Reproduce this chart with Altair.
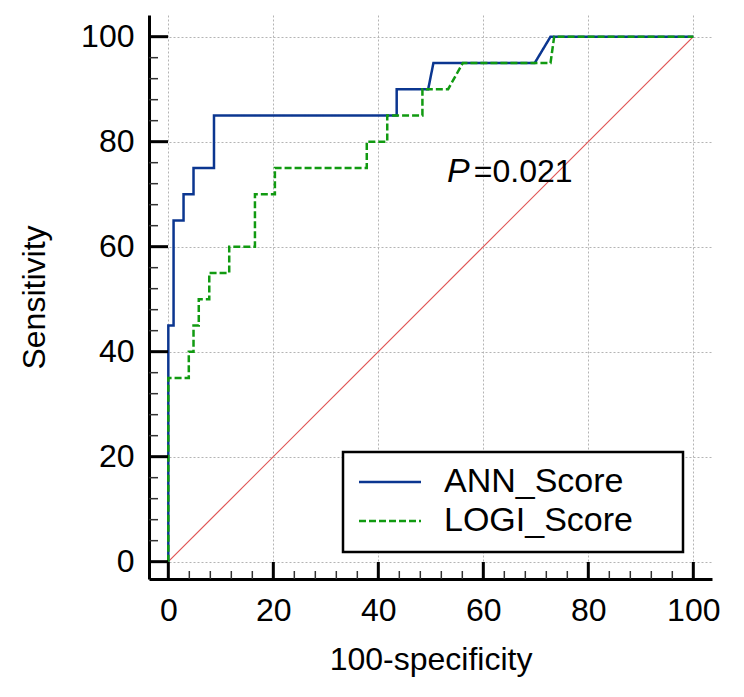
import altair as alt
import pandas as pd

# ---- data ----
series_names = ["ANN_Score", "LOGI_Score"]

ann_x = [0, 0, 1, 1, 2.9, 2.9, 4.8, 4.8, 8.7, 8.7, 43.5, 43.5, 49.5, 50.5, 69.8, 72.8, 100]
ann_y = [0, 45, 45, 65, 65, 70, 70, 75, 75, 85, 85, 90, 90, 95, 95, 100, 100]

logi_x = [0, 0, 3.9, 3.9, 4.8, 4.8, 5.8, 5.8, 7.8, 7.8, 11.6, 11.6, 16.5, 16.5, 20.3, 20.3,
          37.8, 37.8, 41.7, 41.7, 48.4, 48.4, 53.3, 56.1, 72.8, 73.5, 100]
logi_y = [0, 35, 35, 40, 40, 45, 45, 50, 50, 55, 55, 60, 60, 70, 70, 75,
          75, 80, 80, 85, 85, 90, 90, 95, 95, 100, 100]

diag_x = [0, 100]
diag_y = [0, 100]

major_ticks = [0, 20, 40, 60, 80, 100]
minor_ticks = [4, 8, 12, 16, 24, 28, 32, 36, 44, 48, 52, 56, 64, 68, 72, 76, 84, 88, 92, 96]

p_label = "P"
p_value = "=0.021"

# ---- tables ----
rows = []
for name, xs, ys in [("ANN_Score", ann_x, ann_y), ("LOGI_Score", logi_x, logi_y)]:
    for i, (x, y) in enumerate(zip(xs, ys)):
        rows.append({"series": name, "fpr": x, "sens": y, "order": i})
df = pd.DataFrame(rows)
diag_df = pd.DataFrame({"fpr": diag_x, "sens": diag_y})
major_df = pd.DataFrame({"fpr": major_ticks, "sens": major_ticks})
minor_df = pd.DataFrame({"fpr": minor_ticks, "sens": minor_ticks})
one_df = pd.DataFrame({"a": [0]})

FONT = "Liberation Sans, Arial, sans-serif"
W, H = 563, 564

xscale = alt.Scale(domain=[-3.68, 103.56], nice=False, zero=False)
yscale = alt.Scale(domain=[-3.30, 104.13], nice=False, zero=False)

common_axis = dict(
    values=major_ticks, ticks=False, tickSize=0, grid=True, gridDash=[2, 2],
    gridColor="#b4b4b4", gridWidth=1, domainColor="black", domainWidth=3,
    labelFontSize=32, labelFont=FONT, labelColor="black", labelFlush=False,
    labelOverlap=False, titleFont=FONT, titleFontSize=32, titleFontWeight="normal",
    titleColor="black",
)
xaxis = alt.Axis(title="100-specificity", labelPadding=16, titlePadding=18, **common_axis)
yaxis = alt.Axis(title="Sensitivity", labelPadding=15, titlePadding=29, **common_axis)

X = alt.X("fpr:Q", scale=xscale, axis=xaxis)
Y = alt.Y("sens:Q", scale=yscale, axis=yaxis)

# legend symbol: a horizontal line three times as long as the nominal symbol size
leg = alt.Legend(
    title=None, orient="none", legendX=224, legendY=450, symbolType="M-3,0H3",
    symbolSize=427, symbolStrokeWidth=2.5, labelFontSize=34, labelFont=FONT,
    labelColor="black", labelOffset=37, rowPadding=5, padding=0, labelLimit=400,
)

diag = alt.Chart(diag_df).mark_line(strokeWidth=1.2).encode(
    x=X, y=Y, color=alt.value("#e05555")
)

lines = alt.Chart(df).mark_line(strokeWidth=2.5).encode(
    x=X, y=Y,
    color=alt.Color("series:N", scale=alt.Scale(domain=series_names, range=["#0b3690", "#119a11"]), legend=leg),
    strokeDash=alt.StrokeDash("series:N", scale=alt.Scale(domain=series_names, range=[[1, 0], [7, 3]]), legend=leg),
    order="order:Q",
)

box = alt.Chart(one_df).mark_rect(fill="white", stroke="black", strokeWidth=2.5).encode(
    x=alt.value(194), x2=alt.value(534), y=alt.value(437), y2=alt.value(537)
)

y_major = alt.Chart(major_df).mark_rule(color="black", strokeWidth=3).encode(
    y=Y, x=alt.value(0), x2=alt.value(19)
)
y_minor = alt.Chart(minor_df).mark_rule(color="#333333", strokeWidth=1.5).encode(
    y=Y, x=alt.value(0), x2=alt.value(9)
)
x_major = alt.Chart(major_df).mark_rule(color="black", strokeWidth=3).encode(
    x=X, y=alt.value(H), y2=alt.value(H - 17)
)
x_minor = alt.Chart(minor_df).mark_rule(color="#333333", strokeWidth=1.5).encode(
    x=X, y=alt.value(H), y2=alt.value(H - 8)
)

txt_p = alt.Chart(one_df).mark_text(
    text=p_label, align="left", baseline="alphabetic", fontStyle="italic",
    fontSize=34, font=FONT, color="black"
).encode(x=alt.datum(53.1), y=alt.datum(72.4))
txt_v = alt.Chart(one_df).mark_text(
    text=p_value, align="left", baseline="alphabetic", fontSize=32, font=FONT, color="black"
).encode(x=alt.datum(58.2), y=alt.datum(72.4))

chart = alt.layer(
    diag, lines, box, y_minor, y_major, x_minor, x_major, txt_p, txt_v
).properties(
    width=W, height=H,
    autosize=alt.AutoSizeParams(type="none"),
    padding={"left": 141, "top": 7, "right": 20, "bottom": 110},
).configure_view(stroke=None)

chart.save("out.html", embed_options={"renderer": "svg", "actions": False})
